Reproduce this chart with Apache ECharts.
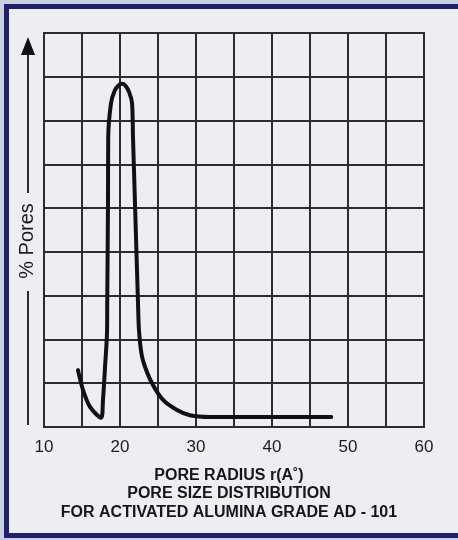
<!DOCTYPE html>
<html><head><meta charset="utf-8">
<script src="https://cdn.jsdelivr.net/npm/echarts@6/dist/echarts.min.js"></script>
<style>html,body{margin:0;padding:0;background:#c9d1e2;}#c{width:458px;height:540px;}</style>
</head><body><div id="c"></div>
<script>
var poreRadius = [14.47, 15.13, 16.05, 17.5, 17.76, 18.03, 18.29, 18.32, 18.42, 18.45, 18.82, 19.3, 19.8, 20.26, 20.7, 21.2, 21.58, 21.71, 21.97, 22.37, 22.5, 22.85, 23.3, 24.21, 25.66, 27.5, 29.2, 31.8, 40, 47.8];
var poresPct   = [1.30, 0.85, 0.46, 0.21, 0.62, 1.37, 2.15, 2.83, 5.12, 6.62, 7.40, 7.68, 7.80, 7.84, 7.80, 7.65, 7.40, 6.62, 5.12, 2.83, 2.2, 1.65, 1.37, 1.00, 0.62, 0.39, 0.27, 0.23, 0.23, 0.23];
var xTickLabels = ['10', '20', '30', '40', '50', '60'];
var titleLines = ['PORE RADIUS r(A\u02DA)', 'PORE SIZE DISTRIBUTION', 'FOR ACTIVATED ALUMINA GRADE AD - 101'];
var yName = '% Pores';

var chart = echarts.init(document.getElementById('c'), null, {renderer:'canvas'});
var pts = poreRadius.map(function(x,i){return [x, poresPct[i]];});
chart.setOption({
  backgroundColor: '#c9d1e2',
  animation: false,
  grid: {left:44, right:34, top:33, bottom:113, show:true, borderColor:'#2b2b33', borderWidth:2},
  title: {
    text: titleLines.join('\n'), left: 'center', top: 461,
    textStyle: {fontFamily:'Liberation Sans, Arial', fontWeight:'bold', fontSize:16, color:'#161616', lineHeight:18.5}
  },
  xAxis: {
    type:'value', min:10, max:60, interval:5,
    axisLine:{show:false}, axisTick:{show:false},
    axisLabel:{
      margin:12, fontSize:17, color:'#1c1c1c', fontFamily:'Liberation Sans, Arial',
      formatter:function(v){ var s=String(v); return xTickLabels.indexOf(s)>=0 ? s : ''; }
    },
    splitLine:{show:true, lineStyle:{color:'#2b2b33', width:2}}
  },
  yAxis: {
    type:'value', min:0, max:9, interval:1,
    axisLine:{show:false}, axisTick:{show:false}, axisLabel:{show:false},
    splitLine:{show:true, lineStyle:{color:'#2b2b33', width:2}}
  },
  graphic: [
    {type:'rect', z:-1, shape:{x:6.5, y:6.5, width:500, height:529}, style:{fill:'#eceef4', stroke:'#231f6e', lineWidth:5}},
    {type:'line', shape:{x1:28, y1:52, x2:28, y2:193}, style:{stroke:'#2a2a30', lineWidth:2}},
    {type:'line', shape:{x1:28, y1:291, x2:28, y2:425}, style:{stroke:'#2a2a30', lineWidth:2}},
    {type:'polygon', shape:{points:[[28,37],[21,55],[35,55]]}, style:{fill:'#111'}},
    {type:'text', x:27, y:241, rotation:Math.PI/2,
     style:{text:yName, fontSize:20, fontFamily:'Liberation Sans, Arial', fill:'#1c1c1c', align:'center', verticalAlign:'middle'}}
  ],
  series: [{
    type:'line', data:pts, smooth:0.3, showSymbol:false, symbol:'none',
    lineStyle:{color:'#111', width:4, cap:'round', join:'round'}
  }]
});
</script></body></html>
